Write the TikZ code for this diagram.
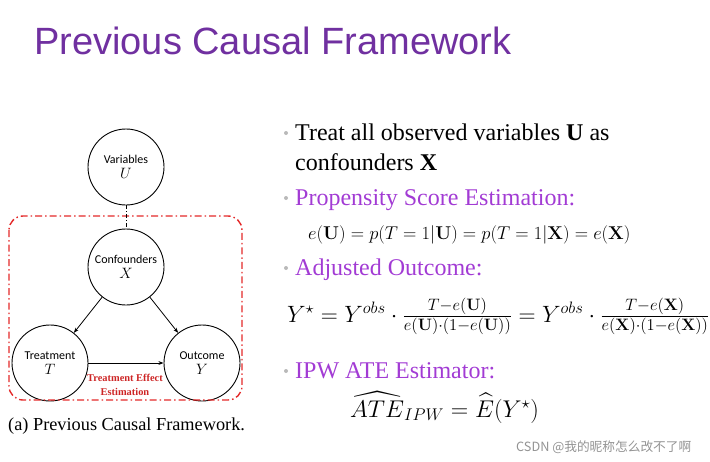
\RequirePackage{fix-cm}
\documentclass[tikz,border=0pt]{standalone}
\usepackage{amsmath,amssymb}
\usepackage[no-math]{fontspec}
\newfontfamily\titlefont{Liberation Sans}
\newfontfamily\slidefont{Liberation Serif}
\newfontfamily\circfont{Carlito}
\newfontfamily\cjkfont{Noto Sans CJK SC}
\usetikzlibrary{arrows.meta,positioning}
\definecolor{titlepurple}{HTML}{7030A0}
\definecolor{headpurple}{HTML}{A23BD4}
\definecolor{framered}{HTML}{E42A2A}

\begin{document}
\begin{tikzpicture}[x=1pt, y=-1pt,
  var/.style={draw, circle, minimum size=76pt, inner sep=0pt, align=center, line width=0.9pt, font=\circfont\fontsize{12}{15}\selectfont},
  arr/.style={-{Stealth[length=1.8mm]}, line width=0.8pt},
  bul/.style={circle, fill=gray!55, inner sep=0pt, minimum size=4pt},
  txt/.style={anchor=base west, inner sep=0pt, font=\slidefont\fontsize{24}{30}\selectfont},
  head/.style={txt, text=headpurple},
  eqn/.style={anchor=base west, inner sep=0pt}]
\useasboundingbox (0,0) rectangle (710,461);
% title
\node[anchor=base west, inner sep=0pt, text=titlepurple, font=\titlefont\fontsize{38}{44}\selectfont] (title) at (34,54) {Previous Causal Framework};
% causal graph
\node[var] (vars) at (126,167) {Variables\\\fontsize{15}{15}\selectfont$U$};
\node[var] (conf) at (126,267) {Confounders\\\fontsize{15}{15}\selectfont$X$};
\node[var] (treat) at (50,363) {Treatment\\\fontsize{15}{15}\selectfont$T$};
\node[var] (outc) at (202,363) {Outcome\\\fontsize{15}{15}\selectfont$Y$};
\draw[framered, line width=1.4pt, rounded corners=14pt, dash pattern=on 7pt off 3pt on 1.5pt off 3pt] (9,216) rectangle (242,400);
\draw[line width=0.8pt, dash pattern=on 4pt off 2pt on 1pt off 2pt] (vars) -- (conf);
\draw[arr] (conf) -- (treat);
\draw[arr] (conf) -- (outc);
\draw[arr] (treat) -- (outc);
\node[text=framered!90!black, align=center, font=\slidefont\bfseries\fontsize{10.4}{14}\selectfont, inner sep=0pt] (tee) at (125,385) {Treatment Effect\\Estimation};
\node[anchor=base west, inner sep=0pt, font=\slidefont\fontsize{18.3}{20}\selectfont] (capt) at (8,430) {(a)\ Previous Causal Framework.};
% bullet points
\node[bul] (b1) at (286,133) {};
\node[txt] (l1) at (295,140) {Treat all observed variables {\bfseries U} as};
\node[txt] (l2) at (295,170) {confounders {\bfseries X}};
\node[bul] (b2) at (286,198) {};
\node[head] (l3) at (295,205) {Propensity Score Estimation:};
\node[eqn, font=\fontsize{18.5}{20}\selectfont] (e1) at (308,239) {$e(\mathbf{U}) = p(T=1|\mathbf{U}) = p(T=1|\mathbf{X}) = e(\mathbf{X})$};
\node[bul] (b3) at (286,268) {};
\node[head] (l4) at (295,275) {Adjusted Outcome:};
\node[eqn, font=\fontsize{23.6}{26}\selectfont] (e2) at (287,322) {$Y^\star = Y^{obs}\cdot \tfrac{T-e(\mathbf{U})}{e(\mathbf{U})\cdot(1-e(\mathbf{U}))} = Y^{obs}\cdot \tfrac{T-e(\mathbf{X})}{e(\mathbf{X})\cdot(1-e(\mathbf{X}))}$};
\node[bul] (b4) at (286,371) {};
\node[head] (l5) at (295,378) {IPW ATE Estimator:};
\node[eqn, font=\fontsize{24.2}{28}\selectfont] (e3) at (350,417) {$\widehat{ATE}_{IPW} = \widehat{E}(Y^\star)$};
% watermark
\node[anchor=base west, inner sep=0pt, text=gray!85, font=\cjkfont\fontsize{12.7}{15}\selectfont] (mark) at (516,451) {CSDN @我的昵称怎么改不了啊};
\end{tikzpicture}
\end{document}
